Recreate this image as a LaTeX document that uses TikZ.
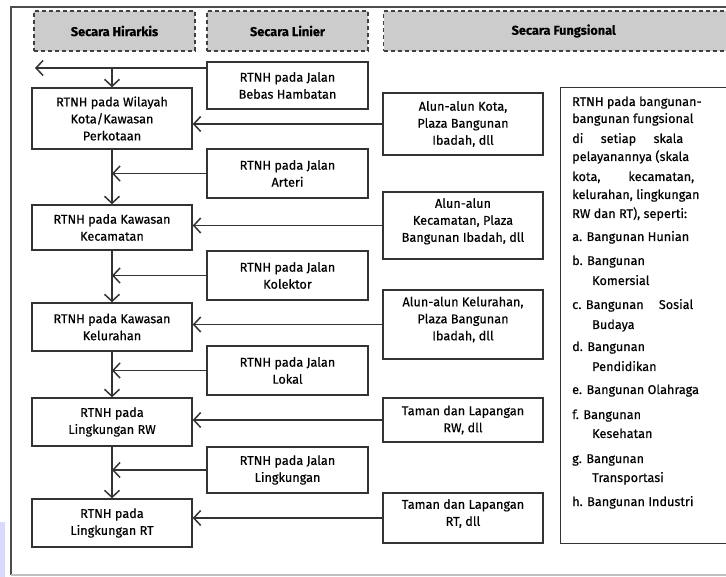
\documentclass[tikz,border=0pt]{standalone}
\usepackage{fontspec}
\setmainfont{Fira Sans}[FakeBold=0.4]
\usetikzlibrary{arrows.meta}
\begin{document}
\begin{tikzpicture}[x=1pt,y=-1pt,
  every node/.style={font=\fontsize{12.7}{17}\selectfont},
  box/.style={draw=black!80, line width=1.4pt, inner sep=0pt, align=center},
  hdr/.style={draw=black!75, dash pattern=on 4pt off 3pt, line width=1.4pt, fill=black!20, inner sep=0pt, minimum height=40pt, font=\fontsize{12.7}{17}\selectfont\bfseries},
  conn/.style={draw=black!80, line width=1.5pt},
  arr/.style={conn, -{Straight Barb[length=7pt,width=15pt]}},
  ftxt/.style={anchor=base west, inner sep=0pt}
]
\useasboundingbox (0,0) rectangle (726,577);
\clip (0,0) rectangle (726,577);
\fill[blue!15] (0,522) rectangle (5,577);
% frame
\draw[black!70, line width=1.3pt] (740,7) -- (11,7) -- (11,575);
\draw[black!25, line width=1.2pt] (11,575) -- (740,575);
% headers
\node[hdr, minimum width=161pt] (h1) at (114.5,31) {Secara Hirarkis};
\node[hdr, minimum width=161pt] (h2) at (287.5,31) {Secara Linier};
\node[hdr, anchor=west, minimum width=360pt] (h3) at (383,31) {\makebox[334pt]{Secara Fungsional}\hspace{26pt}};
% hierarchical
\node[box, minimum width=160pt, minimum height=61pt] (kota) at (112,118.5) {RTNH pada Wilayah\\Kota/Kawasan\\Perkotaan};
\node[box, minimum width=160pt, minimum height=45pt] (kec) at (112,227.5) {RTNH pada Kawasan\\Kecamatan};
\node[box, minimum width=160pt, minimum height=48pt] (kel) at (112,327) {RTNH pada Kawasan\\Kelurahan};
\node[box, minimum width=160pt, minimum height=48pt] (rw) at (112,422) {RTNH pada\\Lingkungan RW};
\node[box, minimum width=160pt, minimum height=48pt] (rt) at (112,523) {RTNH pada\\Lingkungan RT};
% linear
\node[box, minimum width=161pt, minimum height=47pt] (bebas) at (287.5,85.5) {RTNH pada Jalan\\Bebas Hambatan};
\node[box, minimum width=161pt, minimum height=49pt] (arteri) at (287.5,173.5) {RTNH pada Jalan\\Arteri};
\node[box, minimum width=161pt, minimum height=49pt] (kolektor) at (287.5,275.5) {RTNH pada Jalan\\Kolektor};
\node[box, minimum width=161pt, minimum height=49pt] (lokal) at (287.5,370.5) {RTNH pada Jalan\\Lokal};
\node[box, minimum width=161pt, minimum height=46pt] (lingk) at (287.5,470) {RTNH pada Jalan\\Lingkungan};
% functional
\node[box, minimum width=160pt, minimum height=62pt] (fkota) at (463,124) {Alun-alun Kota,\\Plaza Bangunan\\Ibadah, dll};
\node[box, minimum width=160pt, minimum height=67pt, text depth=11pt] (fkec) at (463,225.5) {Alun-alun\\Kecamatan, Plaza\\Bangunan Ibadah, dll};
\node[box, minimum width=160pt, minimum height=69pt, text depth=12pt] (fkel) at (463,324.5) {Alun-alun Kelurahan,\\Plaza Bangunan\\Ibadah, dll};
\node[box, minimum width=160pt, minimum height=44pt] (frw) at (463,420) {Taman dan Lapangan\\RW, dll};
\node[box, minimum width=160pt, minimum height=50pt, text depth=11pt] (frt) at (463,518) {Taman dan Lapangan\\RT, dll};
\node[box, anchor=north west, minimum width=185pt, minimum height=456pt] (fbox) at (560,87) {};
% text of the big box
\node[ftxt] (f1) at (572,106) {RTNH pada bangunan-};
\node[ftxt] (f2) at (572,123) {bangunan fungsional};
\node[ftxt] (f3) at (572,143) {\makebox[111pt][s]{di setiap skala}};
\node[ftxt] (f4) at (572,161) {pelayanannya (skala};
\node[ftxt] (f5) at (572,181) {\makebox[122pt][s]{kota, kecamatan,}};
\node[ftxt] (f6) at (572,199) {kelurahan, lingkungan};
\node[ftxt] (f7) at (572,218) {RW dan RT), seperti:};
\node[ftxt] (f8) at (572,241) {a. Bangunan Hunian};
\node[ftxt] (f9) at (572,265) {b. Bangunan};
\node[ftxt] (f10) at (592,285) {Komersial};
\node[ftxt] (f11) at (572,309) {\makebox[121pt]{c. Bangunan\hfill Sosial}};
\node[ftxt] (f12) at (592,329) {Budaya};
\node[ftxt] (f13) at (572,351) {d. Bangunan};
\node[ftxt] (f14) at (592,371) {Pendidikan};
\node[ftxt] (f15) at (572,394) {e. Bangunan Olahraga};
\node[ftxt] (f16) at (572,419) {f. Bangunan};
\node[ftxt] (f17) at (592,438) {Kesehatan};
\node[ftxt] (f18) at (572,463) {g. Bangunan};
\node[ftxt] (f19) at (592,482) {Transportasi};
\node[ftxt] (f20) at (572,506) {h. Bangunan Industri};
% connectors
\coordinate (tl) at (35,68);
\draw[arr] ([yshift=17.5pt]bebas.west) -- (tl);
\draw[arr] (tl -| kota.north) -- (kota.north);
\draw[arr] (kota.south) -- (kec.north);
\draw[arr] (kec.south) -- (kel.north);
\draw[arr] (kel.south) -- (rw.north);
\draw[arr] (rw.south) -- (rt.north);
\draw[arr] (arteri.west) -- (arteri.west -| kota.south);
\draw[arr] (kolektor.west) -- (kolektor.west -| kec.south);
\draw[arr] (lokal.west) -- (lokal.west -| kel.south);
\draw[arr] (lingk.west) -- (lingk.west -| rw.south);
\draw[arr] (fkota.west) -- (fkota.west -| kota.east);
\draw[arr] (fkec.west) -- (fkec.west -| kec.east);
\draw[arr] (fkel.west) -- (fkel.west -| kel.east);
\draw[arr] (frw.west) -- (frw.west -| rw.east);
\draw[arr] (frt.west) -- (frt.west -| rt.east);
\end{tikzpicture}
\end{document}
